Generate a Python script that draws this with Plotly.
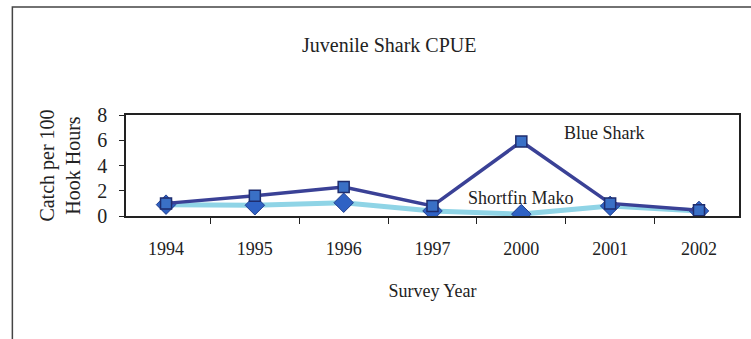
import plotly.graph_objects as go

years = ["1994", "1995", "1996", "1997", "2000", "2001", "2002"]
blue_shark = [1.0, 1.6, 2.3, 0.8, 5.9, 1.0, 0.45]
shortfin_mako = [0.9, 0.85, 1.05, 0.4, 0.15, 0.8, 0.4]
y_ticks = [0, 2, 4, 6, 8]

FONT = "Liberation Serif"

fig = go.Figure()
fig.add_trace(go.Scatter(
    x=years, y=shortfin_mako, mode="lines+markers", name="Shortfin Mako",
    line=dict(color="#8fd4e6", width=5),
    marker=dict(symbol="diamond", size=15, color="#2f62c4",
                line=dict(color="#23408f", width=1)),
))
fig.add_trace(go.Scatter(
    x=years, y=blue_shark, mode="lines+markers", name="Blue Shark",
    line=dict(color="#3a4196", width=3.5),
    marker=dict(symbol="square", size=11, color="#3a70c6",
                line=dict(color="#1f2d6e", width=1.5)),
))

L, R, T, B = 126, 10, 115, 123
W, H = 751, 339
pw = W - L - R
ph = H - T - B

def px(x):
    return (x - L) / pw

def py(y):
    return (H - B - y) / ph

fig.update_layout(
    width=W, height=H,
    margin=dict(l=L, r=R, t=T, b=B),
    paper_bgcolor="white", plot_bgcolor="white",
    showlegend=False,
    font=dict(family=FONT, color="#222222", size=18),
    xaxis=dict(
        type="category", tickson="boundaries", ticks="outside", ticklen=6,
        tickcolor="#222", showline=True, linecolor="#222", linewidth=1.5,
        mirror=True, showgrid=False, tickfont=dict(size=18),
        ticklabelstandoff=16,
        title=dict(text="Survey Year", font=dict(size=18), standoff=26),
    ),
    yaxis=dict(
        range=[0, 8], tickvals=y_ticks, ticks="outside", ticklen=5,
        tickcolor="#222", showline=True, linecolor="#222", linewidth=1.5,
        mirror=True, showgrid=False, zeroline=False, tickfont=dict(size=20),
        ticklabelstandoff=8,
        title=dict(text="Catch per 100<br>Hook Hours", font=dict(size=20), standoff=11),
    ),
)

def note(text, x, y, size):
    fig.add_annotation(text=text, xref="paper", yref="paper",
                       x=px(x), y=py(y), xanchor="center", yanchor="middle",
                       showarrow=False, font=dict(size=size, family=FONT))

note("Juvenile Shark CPUE", 390, 45, 20)
note("Blue Shark", 606, 133, 18)
note("Shortfin Mako", 522, 198, 18)

fig.add_shape(type="rect", xref="paper", yref="paper",
              x0=px(12), x1=px(770), y0=py(360), y1=py(7),
              line=dict(color="#444", width=1.5), fillcolor="rgba(0,0,0,0)",
              layer="below")

fig.write_html("out.html")
